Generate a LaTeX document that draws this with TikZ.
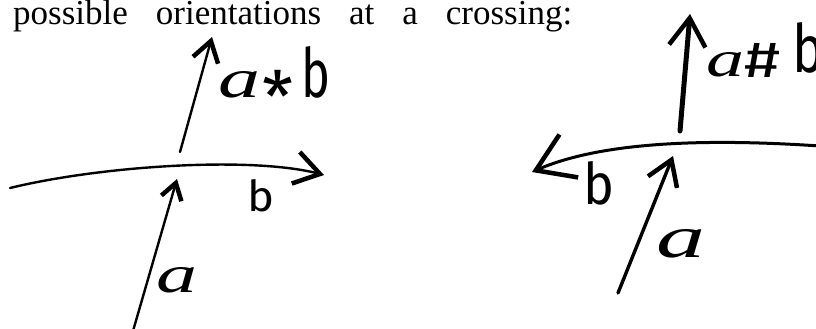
\documentclass[tikz,border=0pt]{standalone}
\usepackage{fontspec}
\usepackage{graphicx}
\setmainfont{Liberation Serif}
\newfontfamily\hand{Fira Sans}
\newfontfamily\handa{Liberation Serif}
\usetikzlibrary{arrows.meta}
\newcommand{\gl}[3]{\resizebox{#1pt}{#2pt}{#3}}
\newcommand{\ha}{{\handa\itshape a}}
\tikzset{
  strand/.style={line width=2.4pt, line cap=round},
  thick strand/.style={line width=5pt, line cap=round},
  barb/.style={-{Straight Barb[length=#1,width=1.3*#1,line width=4.5pt]}},
  glyph/.style={inner sep=0pt, outer sep=0pt, font=\hand\fontsize{40}{40}\selectfont},
}
\begin{document}
\begin{tikzpicture}[x=1pt,y=-1pt]
\useasboundingbox (0,0) rectangle (816,329);
% caption line
\node[anchor=base west, inner sep=0pt, font=\fontsize{35}{35}\selectfont] (cap) at (13,25)
  {\makebox[559pt][s]{possible orientations at a crossing:}};
% ---- left crossing ----
\coordinate (La0) at (133,331);
\coordinate (La1) at (177,179);
\coordinate (Lc0) at (180,152);
\coordinate (Lc1) at (212,37);
\coordinate (Lb0) at (10,188);
\coordinate (Lb1) at (324,175);
\draw[strand, barb=16pt] (La0) -- (La1);
\draw[strand, barb=20pt] (Lc0) -- (Lc1);
\draw[strand, barb=25pt] (Lb0) .. controls (100,166) and (250,156) .. (Lb1);
% label a*b
\node[glyph, anchor=south west] (Lla) at (218,98) {\gl{42}{26}{\ha}};
\node[glyph, anchor=north] (Lls) at (278,70) {\resizebox{31pt}{!}{*}};
\node[glyph, anchor=south west] (Llb) at (301,98) {\gl{29}{51}{b}};
% label b
\node[glyph, anchor=south west] (Lb) at (247,212) {\gl{27}{32}{b}};
% label a
\node[glyph, anchor=south west] (La) at (156,293) {\gl{41}{25}{\ha}};
% ---- right crossing ----
\coordinate (Ra0) at (618,293);
\coordinate (Ra1) at (673,156);
\coordinate (Rc0) at (680,131);
\coordinate (Rc1) at (690,14);
\coordinate (Rb0) at (820,146);
\coordinate (Rb1) at (532,172);
\draw[line width=3.4pt, line cap=round, barb=24pt] (Ra0) -- (Ra1);
\draw[thick strand, barb=28pt] (Rc0) -- (Rc1);
\draw[line width=3pt, barb=36pt] (Rb0) .. controls (730,140) and (610,138) .. (Rb1);
% label a#b
\node[glyph, anchor=south west] (Rla) at (706,77) {\gl{38}{24}{\ha}};
\node[glyph, anchor=south west] (Rlh) at (744,77) {\gl{36}{34}{\#}};
\node[glyph, anchor=south west] (Rlb) at (792,73) {\gl{32}{50}{b}};
% label b
\node[glyph, anchor=south west] (Rb) at (583,205) {\gl{31}{43}{b}};
% label a
\node[glyph, anchor=south west] (Ra) at (656,258) {\gl{49}{28}{\ha}};
\end{tikzpicture}
\end{document}
